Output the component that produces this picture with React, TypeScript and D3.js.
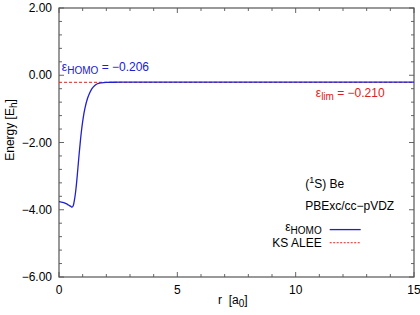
import React, { useRef, useEffect } from 'react';
import * as d3 from 'd3';

// values
const rValues = [0, 0.1, 0.2, 0.3, 0.4, 0.5, 0.55, 0.6, 0.65, 0.7, 0.75, 0.8, 0.85, 0.9, 0.95, 1.0, 1.05, 1.1, 1.2, 1.3, 1.4, 1.5, 1.6, 1.8, 2.0, 2.3, 2.6, 3, 4, 6, 8, 10, 12, 15];
const homoValues = [-3.76, -3.77, -3.79, -3.82, -3.86, -3.9, -3.92, -3.88, -3.72, -3.48, -3.15, -2.75, -2.35, -1.98, -1.65, -1.38, -1.15, -0.97, -0.7, -0.52, -0.39, -0.31, -0.26, -0.225, -0.213, -0.208, -0.207, -0.206, -0.206, -0.206, -0.206, -0.206, -0.206, -0.206];
const aleeRange = [0, 15];
const aleeValue = -0.21;
const xTicks = [0, 5, 10, 15];
const yTicks = [2, 0, -2, -4, -6];

const width = 420;
const height = 315;
const margin = { top: 8, right: 6, bottom: 38, left: 59 };
const font = 'Liberation Sans, Arial, sans-serif';

const Chart = () => {
  const ref = useRef<SVGSVGElement>(null);

  useEffect(() => {
    const svg = d3.select(ref.current);
    svg.selectAll('*').remove();

    const w = width - margin.left - margin.right;
    const h = height - margin.top - margin.bottom;

    const x = d3.scaleLinear().domain([0, 15]).range([0, w]);
    const y = d3.scaleLinear().domain([-6, 2]).range([h, 0]);

    const g = svg.append('g').attr('transform', `translate(${margin.left},${margin.top})`);

    // minor + major ticks, inward on all four sides
    const xMinor = d3.range(0, 15.01, 1);
    const yMinor = d3.range(-6, 2.01, 0.4);
    const tickCol = '#666';
    xMinor.forEach((v) => {
      const len = xTicks.includes(v) ? 5 : 3;
      g.append('line').attr('x1', x(v)).attr('x2', x(v)).attr('y1', h).attr('y2', h - len).attr('stroke', tickCol);
      g.append('line').attr('x1', x(v)).attr('x2', x(v)).attr('y1', 0).attr('y2', len).attr('stroke', tickCol);
    });
    yMinor.forEach((v) => {
      const major = yTicks.some((t) => Math.abs(t - v) < 1e-6);
      const len = major ? 5 : 3;
      g.append('line').attr('x1', 0).attr('x2', len).attr('y1', y(v)).attr('y2', y(v)).attr('stroke', tickCol);
      g.append('line').attr('x1', w).attr('x2', w - len).attr('y1', y(v)).attr('y2', y(v)).attr('stroke', tickCol);
    });

    g.append('rect').attr('width', w).attr('height', h)
      .attr('fill', 'none').attr('stroke', '#555').attr('stroke-width', 1.2);

    g.selectAll('.xl').data(xTicks).enter().append('text')
      .attr('x', (d) => x(d)).attr('y', h + 17)
      .attr('text-anchor', 'middle').attr('font-family', font).attr('font-size', 12)
      .text((d) => d);

    g.selectAll('.yl').data(yTicks).enter().append('text')
      .attr('x', -7).attr('y', (d) => y(d) + 4)
      .attr('text-anchor', 'end').attr('font-family', font).attr('font-size', 12)
      .text((d) => d3.format('.2f')(d).replace('-', '\u2212'));

    // KS ALEE
    g.append('line')
      .attr('x1', x(aleeRange[0])).attr('x2', x(aleeRange[1]))
      .attr('y1', y(aleeValue)).attr('y2', y(aleeValue))
      .attr('stroke', '#e02020').attr('stroke-width', 1).attr('stroke-dasharray', '3,2');

    const line = d3.line<number>()
      .x((d, i) => x(rValues[i]))
      .y((d) => y(d))
      .curve(d3.curveMonotoneX);

    g.append('path').datum(homoValues)
      .attr('d', line).attr('fill', 'none')
      .attr('stroke', '#2020d0').attr('stroke-width', 1.3);

    const fs = 12;
    const sub = 10;

    // annotations
    const t1 = g.append('text').attr('x', x(0.12)).attr('y', y(0.12))
      .attr('font-family', font).attr('font-size', fs).attr('fill', '#2020d0');
    t1.append('tspan').text('\u03b5');
    t1.append('tspan').attr('font-size', sub).attr('dy', 3).text('HOMO');
    t1.append('tspan').attr('dy', -3).text(' = \u22120.206');

    const t2 = g.append('text').attr('x', x(10.85)).attr('y', y(-0.66))
      .attr('font-family', font).attr('font-size', fs).attr('fill', '#e02020');
    t2.append('tspan').text('\u03b5');
    t2.append('tspan').attr('font-size', sub).attr('dy', 3).text('lim');
    t2.append('tspan').attr('dy', -3).text(' = \u22120.210');

    const t3 = g.append('text').attr('x', x(10.4)).attr('y', y(-3.35))
      .attr('font-family', font).attr('font-size', fs);
    t3.append('tspan').text('(');
    t3.append('tspan').attr('font-size', sub - 1).attr('dy', -5).text('1');
    t3.append('tspan').attr('dy', 5).text('S) Be');

    g.append('text').attr('x', x(10.4)).attr('y', y(-4.02))
      .attr('font-family', font).attr('font-size', fs).text('PBExc/cc\u2212pVDZ');

    // legend
    const lx = x(11.1);
    const ly1 = y(-4.62);
    const ly2 = y(-5.1);
    const l1 = g.append('text').attr('x', lx).attr('y', ly1).attr('text-anchor', 'end')
      .attr('font-family', font).attr('font-size', fs);
    l1.append('tspan').text('\u03b5');
    l1.append('tspan').attr('font-size', sub).attr('dy', 3).text('HOMO');
    g.append('line').attr('x1', lx + 8).attr('x2', lx + 39).attr('y1', ly1 - 1).attr('y2', ly1 - 1)
      .attr('stroke', '#2020d0').attr('stroke-width', 1.3);
    g.append('text').attr('x', lx).attr('y', ly2).attr('text-anchor', 'end')
      .attr('font-family', font).attr('font-size', fs).text('KS ALEE');
    g.append('line').attr('x1', lx + 8).attr('x2', lx + 39).attr('y1', ly2 - 4).attr('y2', ly2 - 4)
      .attr('stroke', '#e02020').attr('stroke-width', 1).attr('stroke-dasharray', '2,1.5');

    // axis titles
    const xt = svg.append('text').attr('x', 218).attr('y', 304)
      .attr('font-family', font).attr('font-size', fs);
    xt.append('tspan').text('r\u00a0\u00a0[a');
    xt.append('tspan').attr('font-size', sub).attr('dy', 3).text('0');
    xt.append('tspan').attr('dy', -3).text(']');

    const yt = svg.append('text')
      .attr('transform', 'translate(14,130) rotate(-90)')
      .attr('text-anchor', 'middle').attr('font-family', font).attr('font-size', fs);
    yt.append('tspan').text('Energy [E');
    yt.append('tspan').attr('font-size', sub).attr('dy', 3).text('h');
    yt.append('tspan').attr('dy', -3).text(']');
  }, []);

  return (
    <svg
      ref={ref}
      width={width}
      height={height}
      style={{ position: 'absolute', left: 0, top: 0, background: '#fff' }}
    />
  );
};

export default function App() {
  return <Chart />;
}
